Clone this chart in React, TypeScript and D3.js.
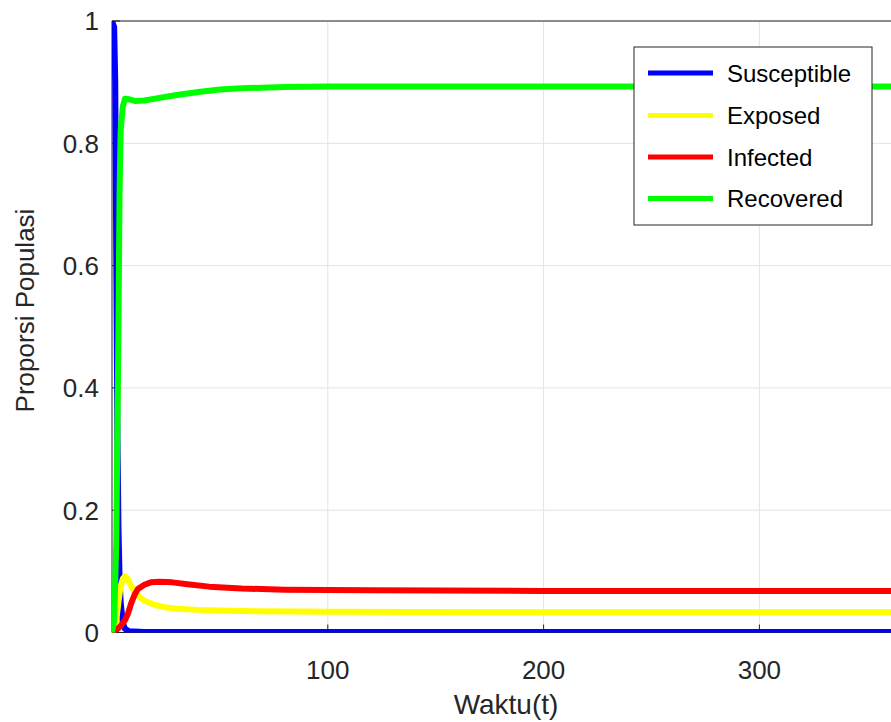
import React from "react";
import * as d3 from "d3";

// ---- data ----
const susceptible: [number, number][] = [
  [0, 1], [1, 0.99], [1.5, 0.9], [2, 0.6], [2.5, 0.32], [3, 0.17], [3.5, 0.09],
  [4, 0.05], [5, 0.016], [6, 0.006], [8, 0.002], [15, 0.001], [100, 0.001], [400, 0.001],
];
const exposed: [number, number][] = [
  [0, 0], [1, 0.004], [2, 0.02], [3, 0.05], [4, 0.075], [5, 0.088], [6, 0.092],
  [7, 0.089], [8, 0.082], [10, 0.069], [12, 0.06], [15, 0.052], [20, 0.045],
  [25, 0.041], [30, 0.039], [40, 0.037], [60, 0.035], [100, 0.034], [200, 0.033], [400, 0.033],
];
const infected: [number, number][] = [
  [0, 0], [2, 0.004], [4, 0.011], [6, 0.02], [7.5, 0.032], [9, 0.049], [10.5, 0.062],
  [12, 0.071], [15, 0.078], [18, 0.082], [22, 0.083], [28, 0.082], [35, 0.079],
  [45, 0.075], [60, 0.072], [80, 0.07], [120, 0.069], [200, 0.068], [400, 0.068],
];
const recovered: [number, number][] = [
  [0, 0], [1, 0.02], [2, 0.15], [3, 0.5], [3.5, 0.72], [4, 0.82], [5, 0.86],
  [6, 0.873], [8, 0.872], [11, 0.869], [15, 0.87], [20, 0.873], [30, 0.879],
  [40, 0.884], [50, 0.888], [60, 0.89], [80, 0.892], [100, 0.893], [400, 0.893],
];

const seriesNames = ["Susceptible", "Exposed", "Infected", "Recovered"];
const seriesColors = ["#0000ff", "#ffff00", "#ff0000", "#00ff00"];
const seriesData = [susceptible, exposed, infected, recovered];

const xTicks = [100, 200, 300, 400];
const xTickLabels = ["100", "200", "300", ""];
const yTicks = [0, 0.2, 0.4, 0.6, 0.8, 1];
const yTickLabels = ["0", "0.2", "0.4", "0.6", "0.8", "1"];

const xLabel = "Waktu(t)";
const yLabel = "Proporsi Populasi";

export default function App() {
  const W = 891;
  const H = 722;
  const left = 112;
  const top = 21;
  const bottom = 632.5;
  const x = d3.scaleLinear().domain([0, 400]).range([left, left + 400 * 2.158]);
  const y = d3.scaleLinear().domain([0, 1]).range([bottom, top]);
  const right = x(400);
  const line = d3
    .line<[number, number]>()
    .x((d) => x(d[0]))
    .y((d) => y(d[1]));

  const axisColor = "#262626";
  const font = "'Liberation Sans', Arial, Helvetica, sans-serif";
  const tickFs = 26;

  // legend
  const lgX = 634, lgY = 47, lgW = 238, lgH = 178;
  const rowY = [73, 115.5, 157, 198.5];

  return (
    <svg
      width={W}
      height={H}
      style={{ position: "absolute", left: 0, top: 0, background: "#fff" }}
      fontFamily={font}
    >
      <rect x={0} y={0} width={W} height={H} fill="#ffffff" />
      <defs>
        <clipPath id="plotclip">
          <rect x={left} y={top} width={right - left} height={bottom - top} />
        </clipPath>
      </defs>
      {/* grid */}
      {xTicks.map((t) => (
        <line key={"gx" + t} x1={x(t)} x2={x(t)} y1={top} y2={bottom} stroke="#e3e3e3" strokeWidth={1} />
      ))}
      {yTicks.map((t) => (
        <line key={"gy" + t} x1={left} x2={right} y1={y(t)} y2={y(t)} stroke="#e3e3e3" strokeWidth={1} />
      ))}
      {/* axes box */}
      <line x1={left} x2={right} y1={top} y2={top} stroke={axisColor} strokeWidth={1} />
      <line x1={left} x2={left} y1={top} y2={bottom} stroke={axisColor} strokeWidth={1} />
      <line x1={left} x2={right} y1={bottom} y2={bottom} stroke={axisColor} strokeWidth={1} />
      {/* ticks (inside) */}
      {xTicks.map((t) => (
        <line key={"tx" + t} x1={x(t)} x2={x(t)} y1={bottom} y2={bottom - 8} stroke={axisColor} strokeWidth={1} />
      ))}
      {yTicks.map((t) => (
        <line key={"ty" + t} x1={left} x2={left + 8} y1={y(t)} y2={y(t)} stroke={axisColor} strokeWidth={1} />
      ))}
      {/* series */}
      <g clipPath="url(#plotclip)">
        {seriesData.map((d, i) => (
          <path
            key={seriesNames[i]}
            d={line(d) || ""}
            fill="none"
            stroke={seriesColors[i]}
            strokeWidth={6}
            strokeLinejoin="round"
          />
        ))}
      </g>
      {/* tick labels */}
      {xTicks.map((t, i) =>
        xTickLabels[i] ? (
          <text key={"lx" + t} x={x(t)} y={679} textAnchor="middle" fontSize={tickFs} fill={axisColor}>
            {xTickLabels[i]}
          </text>
        ) : null
      )}
      {yTicks.map((t, i) => (
        <text key={"ly" + t} x={99} y={y(t) + tickFs * 0.36} textAnchor="end" fontSize={tickFs} fill={axisColor}>
          {yTickLabels[i]}
        </text>
      ))}
      {/* axis labels */}
      <text x={506} y={714} textAnchor="middle" fontSize={28} fill={axisColor}>
        {xLabel}
      </text>
      <text
        transform={`translate(34, 310.5) rotate(-90)`}
        textAnchor="middle"
        fontSize={26}
        fill={axisColor}
      >
        {yLabel}
      </text>
      {/* legend */}
      <rect x={lgX} y={lgY} width={lgW} height={lgH} fill="#ffffff" stroke={axisColor} strokeWidth={1} />
      {seriesNames.map((n, i) => (
        <g key={"lg" + n}>
          <line x1={648} x2={713} y1={rowY[i]} y2={rowY[i]} stroke={seriesColors[i]} strokeWidth={5} />
          <text x={727} y={rowY[i] + 24 * 0.36} fontSize={24} fill="#000">
            {n}
          </text>
        </g>
      ))}
    </svg>
  );
}
